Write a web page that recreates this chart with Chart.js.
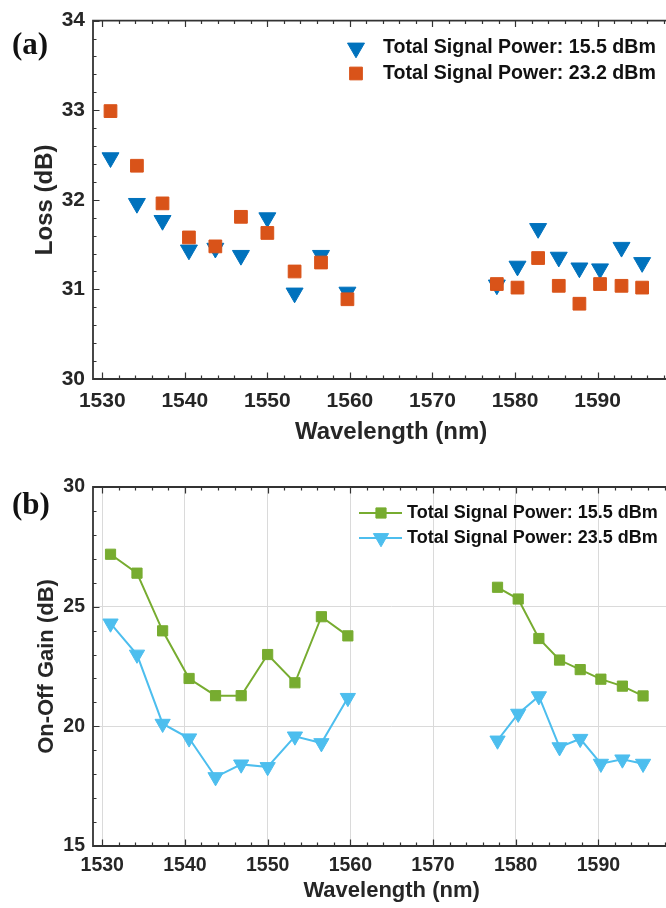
<!DOCTYPE html>
<html>
<head>
<meta charset="utf-8">
<script src="https://cdn.jsdelivr.net/npm/chart.js@4.4.1/dist/chart.umd.min.js"></script>
<style>
  html, body { margin: 0; padding: 0; background: #fff; overflow: hidden; width: 666px; height: 908px; }
  .panel { position: absolute; left: 0; width: 700px; }
  .tag { position: absolute; left: 12px; font: bold 31px "Liberation Serif", "Times New Roman", serif; color: #111; line-height: 31px; }
</style>
</head>
<body>
<div class="panel" style="top:0;height:460px"><canvas id="lossChart" width="700" height="460"></canvas></div>
<div class="panel" style="top:460px;height:448px"><canvas id="gainChart" width="700" height="448"></canvas></div>
<div class="tag" style="top:28px">(a)</div>
<div class="tag" style="top:488px">(b)</div>
<script>
// channel wavelengths (nm), C-band group then L-band group
const wavelengths = [1531.0, 1534.2, 1537.3, 1540.5, 1543.7, 1546.8, 1550.0, 1553.3, 1556.5, 1559.7,
                     1577.8, 1580.3, 1582.8, 1585.3, 1587.8, 1590.3, 1592.9, 1595.4];

// (a) loss, dB
const loss155 = [32.47, 31.96, 31.77, 31.44, 31.46, 31.38, 31.80, 30.96, 31.38, 30.97,
                 31.05, 31.26, 31.68, 31.36, 31.24, 31.23, 31.47, 31.30];
const loss232 = [32.99, 32.38, 31.96, 31.58, 31.48, 31.81, 31.63, 31.20, 31.30, 30.89,
                 31.06, 31.02, 31.35, 31.04, 30.84, 31.06, 31.04, 31.02];

// (b) on-off gain, dB
const gain155 = [27.19, 26.40, 23.99, 22.00, 21.28, 21.28, 23.00, 21.82, 24.58, 23.78,
                 25.81, 25.32, 23.67, 22.77, 22.37, 21.97, 21.68, 21.27];
const gain235 = [24.30, 23.00, 20.11, 19.50, 17.88, 18.41, 18.30, 19.58, 19.30, 21.19,
                 19.41, 20.53, 21.26, 19.13, 19.48, 18.44, 18.62, 18.44];

const xTicks = [1530, 1540, 1550, 1560, 1570, 1580, 1590];
const lossTicks = [30, 31, 32, 33, 34];
const gainTicks = [15, 20, 25, 30];

const lossLabels = ['Total Signal Power: 15.5 dBm', 'Total Signal Power: 23.2 dBm'];
const gainLabels = ['Total Signal Power: 15.5 dBm', 'Total Signal Power: 23.5 dBm'];

const ink = '#262626';
const family = '"Liberation Sans", Arial, sans-serif';
const bold = size => ({ family: family, size: size, weight: 'bold' });

const toPoints = vals => wavelengths.map((x, i) => ({ x: x, y: vals[i] }));

// panel (a) was exported a little larger than panel (b), so fonts differ
function xScale(axisHeight, tickSize, tickPad, titleSize, titlePad, showGrid) {
  return {
    type: 'linear',
    min: 1528.88,
    max: 1601.1,
    afterBuildTicks: s => { s.ticks = xTicks.map(v => ({ value: v })); },
    afterFit: s => { s.height = axisHeight; },
    ticks: { font: bold(tickSize), color: ink, padding: tickPad, maxRotation: 0, autoSkip: false,
             callback: v => String(v) },
    grid: { display: showGrid, drawTicks: false, color: '#dadada', lineWidth: 1 },
    border: { display: false },
    title: { display: true, text: 'Wavelength (nm)', font: bold(titleSize), color: ink,
             padding: { top: 0, bottom: titlePad } }
  };
}

function yScale(min, max, ticks, tickSize, text, titleSize, titlePad, showGrid) {
  return {
    type: 'linear',
    min: min,
    max: max,
    afterBuildTicks: s => { s.ticks = ticks.map(v => ({ value: v })); },
    afterFit: s => { s.width = 93; },
    ticks: { font: bold(tickSize), color: ink, padding: 8, callback: v => String(v) },
    grid: { display: showGrid, drawTicks: false, color: '#dadada', lineWidth: 1 },
    border: { display: false },
    title: { display: true, text: text, font: bold(titleSize), color: ink,
             padding: { top: titlePad, bottom: 0 } }
  };
}

// box with inward ticks, MATLAB style (right edge is cropped off)
const framePlugin = {
  id: 'frame',
  afterDraw(chart, args, o) {
    const { ctx, chartArea: a, scales: { x, y } } = chart;
    ctx.save();
    ctx.strokeStyle = '#333';
    ctx.lineWidth = 1.2;
    ctx.beginPath();
    for (let v = 1530; v <= x.max; v += 2) {
      const px = Math.round(x.getPixelForValue(v)) + 0.5;
      const len = v % 10 === 0 ? 6.5 : 3.5;
      ctx.moveTo(px, a.bottom); ctx.lineTo(px, a.bottom - len);
      ctx.moveTo(px, a.top); ctx.lineTo(px, a.top + len);
    }
    const n = Math.round((y.max - y.min) / o.yMinor);
    for (let i = 0; i <= n; i++) {
      const v = y.min + i * o.yMinor;
      const py = Math.round(y.getPixelForValue(v)) + 0.5;
      const major = Math.abs(v / o.yMajor - Math.round(v / o.yMajor)) < 1e-6;
      ctx.moveTo(a.left, py); ctx.lineTo(a.left + (major ? 6.5 : 3.5), py);
    }
    ctx.stroke();
    ctx.lineWidth = 1.8;
    ctx.beginPath();
    ctx.moveTo(a.right, a.top);
    ctx.lineTo(a.left, a.top);
    ctx.lineTo(a.left, a.bottom);
    ctx.lineTo(a.right, a.bottom);
    ctx.stroke();
    ctx.restore();
  }
};

const legendPlugin = {
  id: 'panelLegend',
  afterDraw(chart, args, o) {
    const ctx = chart.ctx;
    ctx.save();
    ctx.font = 'bold ' + o.size + 'px ' + family;
    ctx.textBaseline = 'middle';
    chart.data.datasets.forEach((ds, i) => {
      const y = o.y + i * o.dy;
      if (o.line) {
        ctx.strokeStyle = ds.borderColor;
        ctx.lineWidth = ds.borderWidth;
        ctx.beginPath();
        ctx.moveTo(o.x - 22, y);
        ctx.lineTo(o.x + 21, y);
        ctx.stroke();
      }
      ctx.fillStyle = ds.pointBackgroundColor;
      ctx.strokeStyle = ds.pointBorderColor;
      ctx.lineWidth = 1;
      Chart.helpers.drawPoint(ctx, {
        pointStyle: ds.pointStyle, radius: ds.pointRadius, rotation: ds.pointRotation || 0, borderWidth: 1
      }, o.x, y);
      ctx.fillStyle = '#111';
      ctx.fillText(ds.label, o.textX, y);
    });
    ctx.restore();
  }
};

const common = {
  responsive: false,
  animation: false,
  events: [],
  plugins: { legend: { display: false }, tooltip: { enabled: false } }
};

new Chart(document.getElementById('lossChart'), {
  type: 'scatter',
  data: {
    datasets: [
      {
        label: lossLabels[0],
        data: toPoints(loss155),
        pointStyle: 'triangle',
        pointRotation: 180,
        pointRadius: 9.8,
        pointBackgroundColor: '#0072BD',
        pointBorderColor: '#0072BD',
        pointBorderWidth: 1,
        order: 1
      },
      {
        label: lossLabels[1],
        data: toPoints(loss232),
        pointStyle: 'rect',
        pointRadius: 9,
        pointBackgroundColor: '#D95319',
        pointBorderColor: '#D95319',
        pointBorderWidth: 1,
        order: 0
      }
    ]
  },
  options: Object.assign({}, common, {
    layout: { padding: { top: 19.5, right: 0, bottom: 0, left: 0 } },
    scales: {
      x: xScale(81, 21, 10, 24, 13.6, false),
      y: yScale(30, 34, lossTicks, 21, 'Loss (dB)', 24, 30.6, false)
    },
    plugins: Object.assign({}, common.plugins, {
      frame: { yMinor: 0.2, yMajor: 1 },
      panelLegend: { x: 356, y: 48, dy: 25.5, textX: 383, size: 19.6, line: false }
    })
  }),
  plugins: [framePlugin, legendPlugin]
});

new Chart(document.getElementById('gainChart'), {
  type: 'line',
  data: {
    datasets: [
      {
        label: gainLabels[0],
        data: toPoints(gain155),
        borderColor: '#77AC30',
        borderWidth: 2,
        pointStyle: 'rect',
        pointRadius: 7.2,
        pointBackgroundColor: '#77AC30',
        pointBorderColor: '#77AC30',
        pointBorderWidth: 1,
        tension: 0,
        spanGaps: 10
      },
      {
        label: gainLabels[1],
        data: toPoints(gain235),
        borderColor: '#4DBEEE',
        borderWidth: 2,
        pointStyle: 'triangle',
        pointRotation: 180,
        pointRadius: 8.8,
        pointBackgroundColor: '#4DBEEE',
        pointBorderColor: '#4DBEEE',
        pointBorderWidth: 1,
        tension: 0,
        spanGaps: 10
      }
    ]
  },
  options: Object.assign({}, common, {
    layout: { padding: { top: 27, right: 0, bottom: 0, left: 0 } },
    scales: {
      x: xScale(62, 19.5, 8, 22, 4, true),
      y: yScale(15, 30, gainTicks, 19.5, 'On-Off Gain (dB)', 22, 34, true)
    },
    plugins: Object.assign({}, common.plugins, {
      frame: { yMinor: 1, yMajor: 5 },
      panelLegend: { x: 381, y: 53, dy: 25, textX: 407, size: 18, line: true }
    })
  }),
  plugins: [framePlugin, legendPlugin]
});
</script>
</body>
</html>
